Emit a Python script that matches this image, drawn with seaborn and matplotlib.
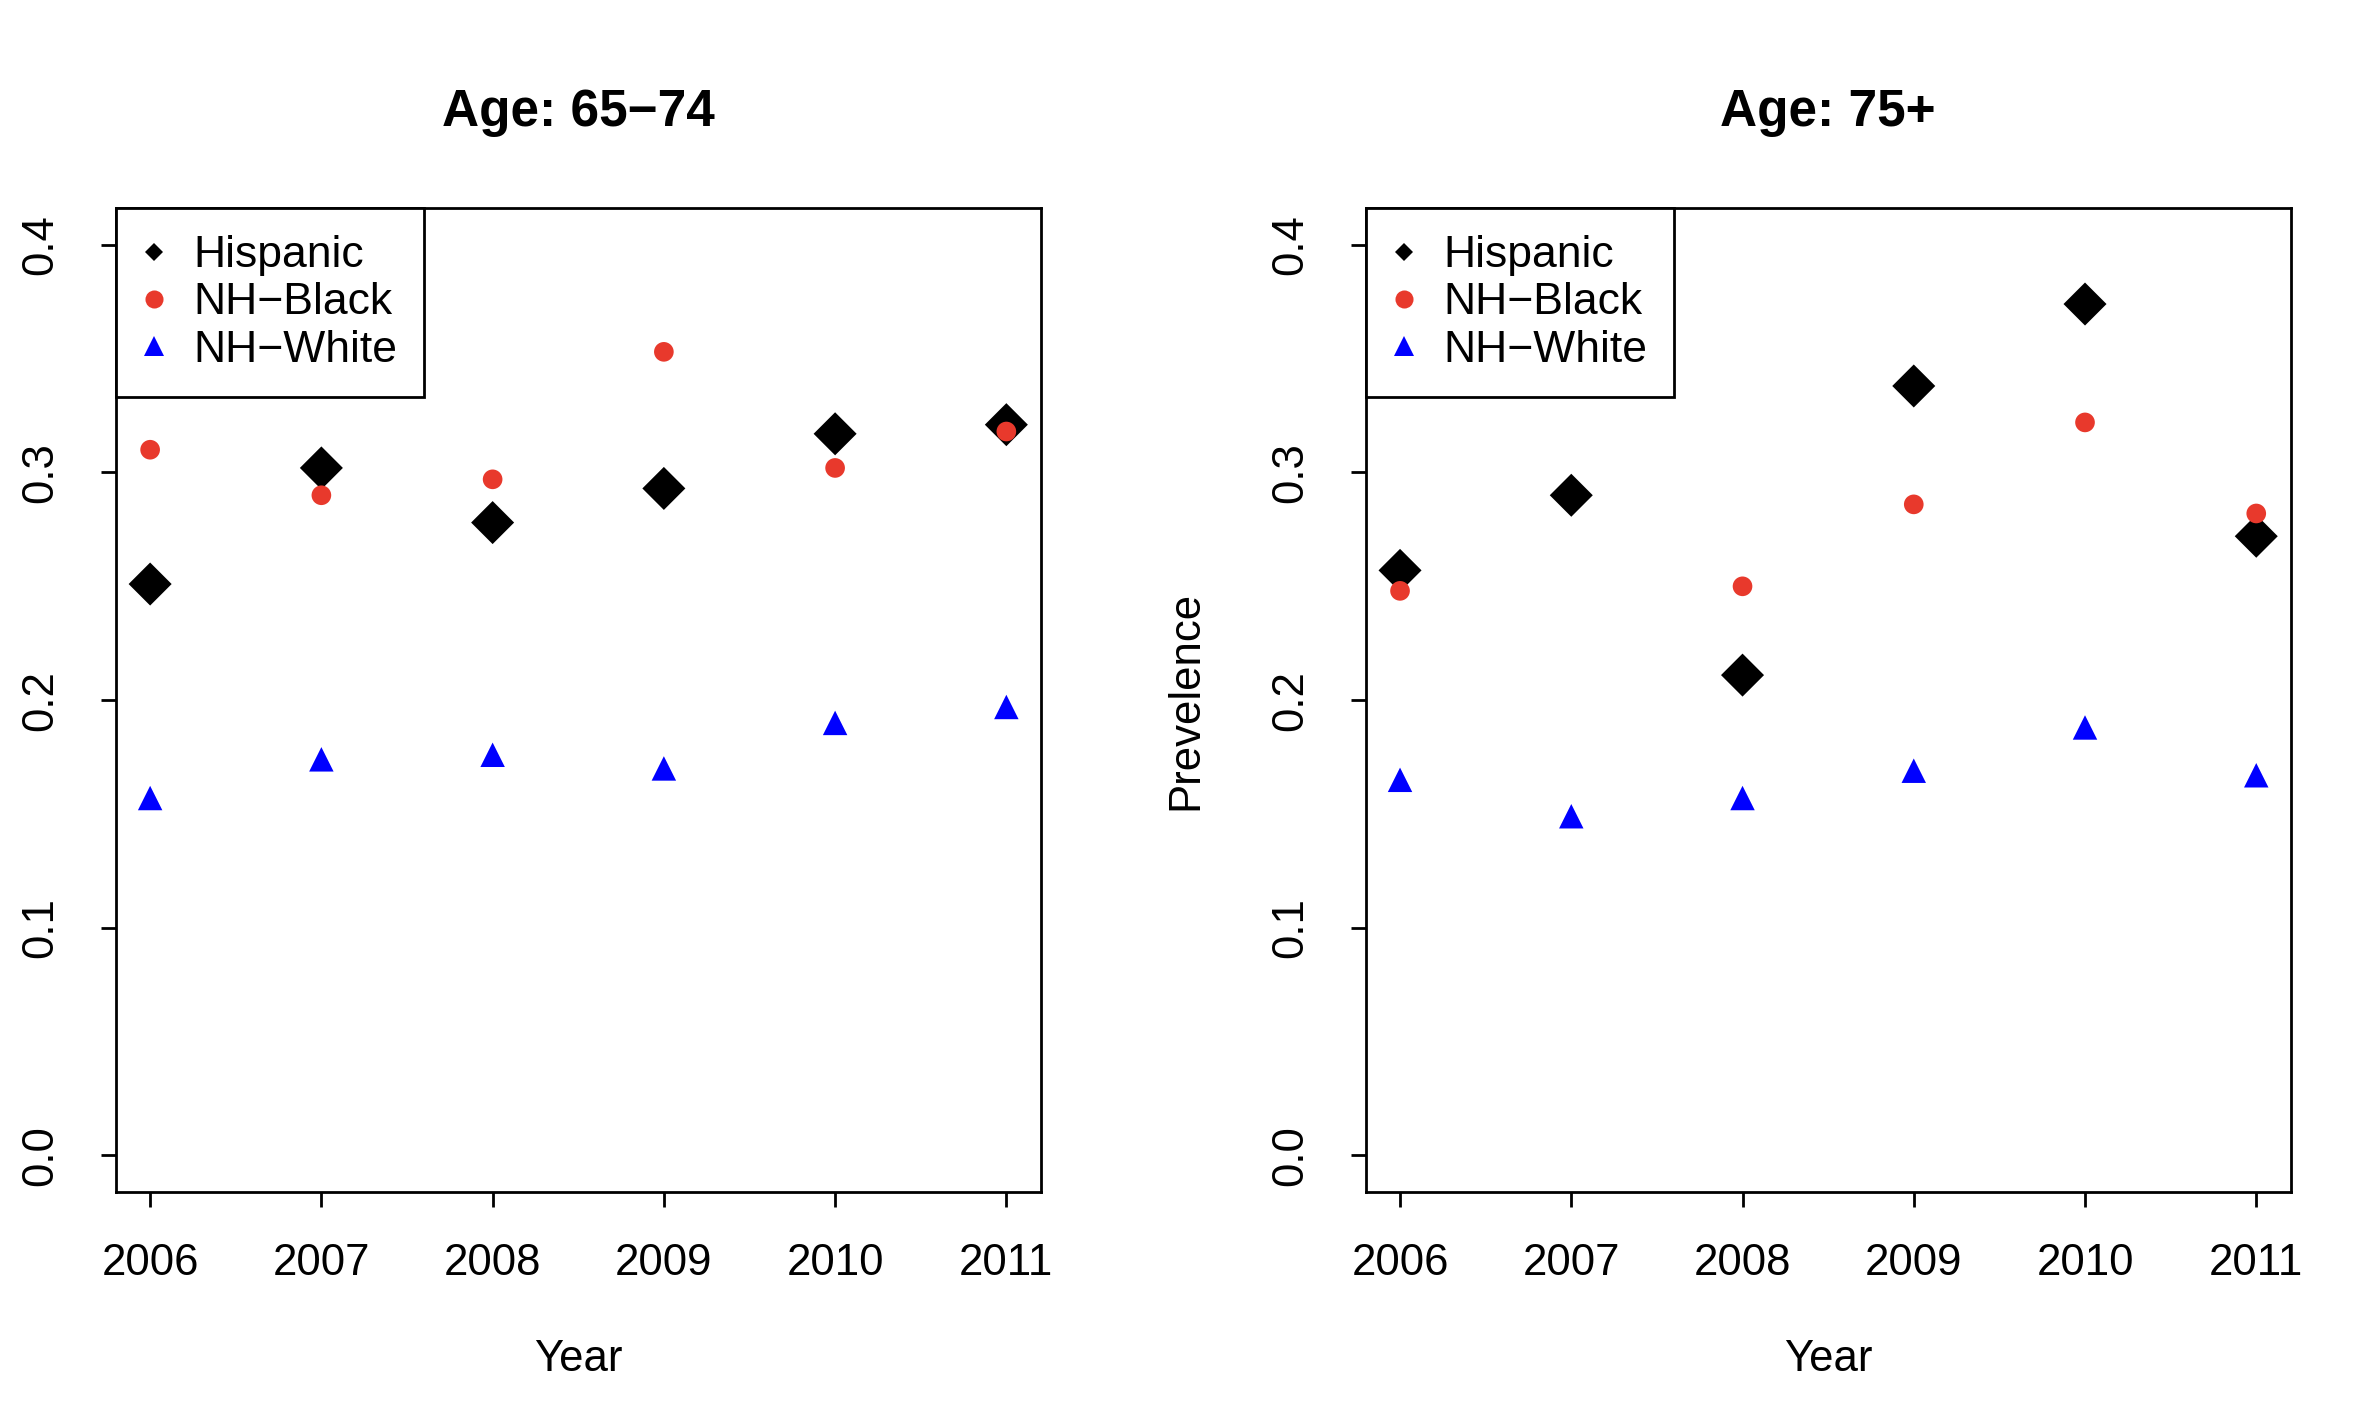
import numpy as np
import pandas as pd
import matplotlib
matplotlib.use('Agg')
import matplotlib.pyplot as plt
from matplotlib.lines import Line2D
import seaborn as sns

# ── Data ──────────────────────────────────────────────────────────────────
years = [2006, 2007, 2008, 2009, 2010, 2011]
groups = ['Hispanic', 'NH−Black', 'NH−White']

hisp_6574 = [0.251, 0.302, 0.278, 0.293, 0.317, 0.321]
black_6574 = [0.310, 0.290, 0.297, 0.353, 0.302, 0.318]
white_6574 = [0.157, 0.174, 0.176, 0.170, 0.190, 0.197]

hisp_75 = [0.257, 0.290, 0.211, 0.338, 0.374, 0.272]
black_75 = [0.248, 0.358, 0.250, 0.286, 0.322, 0.282]
white_75 = [0.165, 0.149, 0.157, 0.169, 0.188, 0.167]

panels = [('Age: 65−74', [hisp_6574, black_6574, white_6574]),
          ('Age: 75+', [hisp_75, black_75, white_75])]

colors = {'Hispanic': 'black', 'NH−Black': '#E8392C', 'NH−White': '#0000FF'}
markers = {'Hispanic': 'D', 'NH−Black': 'o', 'NH−White': '^'}
sizes = {'Hispanic': 480, 'NH−Black': 200, 'NH−White': 310}

sns.set_style('white')
plt.rcParams['font.family'] = ['Liberation Sans', 'DejaVu Sans']
plt.rcParams['text.color'] = 'black'
plt.rcParams['axes.labelcolor'] = 'black'
plt.rcParams['xtick.color'] = 'black'
plt.rcParams['ytick.color'] = 'black'

fig = plt.figure(figsize=(23.65, 14.13), dpi=100)
lefts = [0.049, 0.5775]

for i, (title, series) in enumerate(panels):
    ax = fig.add_axes([lefts[i], 0.1565, 0.391, 0.696])
    df = pd.DataFrame({'Year': np.tile(years, 3),
                       'Prev': np.concatenate(series),
                       'Group': np.repeat(groups, len(years))})
    for g in groups:
        sub = df[df['Group'] == g]
        sns.scatterplot(data=sub, x='Year', y='Prev', color=colors[g],
                        marker=markers[g], s=sizes[g], edgecolor='none',
                        ax=ax, legend=False, zorder=3)

    ax.set_xlim(2006 - 0.2, 2011 + 0.2)
    ax.set_ylim(-0.016, 0.416)
    ax.set_xticks(years)
    ax.set_yticks([0.0, 0.1, 0.2, 0.3, 0.4])
    ax.set_yticklabels(['0.0', '0.1', '0.2', '0.3', '0.4'], rotation=90, va='center')
    ax.tick_params(axis='both', direction='out', length=11, width=2,
                   labelsize=31.5, color='black', left=True, bottom=True)
    ax.tick_params(axis='x', pad=26)
    ax.tick_params(axis='y', pad=28)
    for sp in ax.spines.values():
        sp.set_color('black')
        sp.set_linewidth(2)
    ax.set_xlabel('')
    ax.set_ylabel('')
    ax.text(0.5, 1.098, title, transform=ax.transAxes, ha='center', va='center',
            fontsize=37, fontweight='bold')
    ax.text(0.5, -0.170, 'Year', transform=ax.transAxes, ha='center', va='center',
            fontsize=31.5)
    if i == 1:
        ax.text(-0.195, 0.5, 'Prevelence', transform=ax.transAxes, ha='center',
                va='center', rotation=90, fontsize=31.5)

    handles = [Line2D([0], [0], linestyle='none', marker=markers[g], color=colors[g],
                      markersize=ms, markeredgewidth=0)
               for g, ms in zip(groups, [9, 13, 15])]
    leg = ax.legend(handles, groups, loc='upper left', borderaxespad=0,
                    fancybox=False, framealpha=1, edgecolor='black', fontsize=32,
                    labelspacing=0.14, handletextpad=0.62, handlelength=0.52,
                    borderpad=0.6)
    leg.get_frame().set_linewidth(2)

fig.savefig('out.png', dpi=100)
